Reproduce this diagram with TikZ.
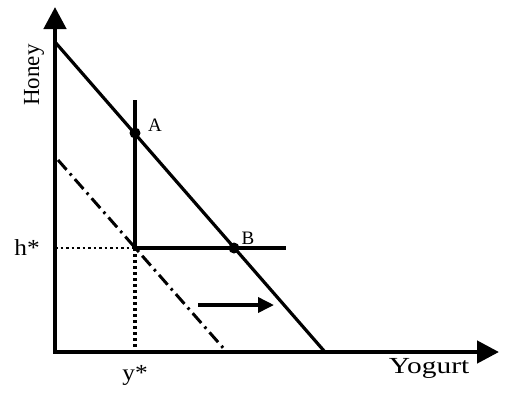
\documentclass[tikz,border=0pt]{standalone}
\usepackage{fontspec}
\setmainfont{Liberation Serif}
\usetikzlibrary{arrows.meta}
\tikzset{
  axis/.style={line width=4.5pt},
  curve/.style={line width=3.2pt},
  guide/.style={line width=2.8pt, dash pattern=on 2.5pt off 3pt},
  guidev/.style={line width=4pt, dash pattern=on 3pt off 3pt},
  dashdot/.style={line width=3pt, dash pattern=on 13pt off 5pt on 2.5pt off 5pt},
  pt/.style={circle, fill=black, inner sep=0pt, minimum size=11pt},
  lbl/.style={font=\fontsize{23}{23}\selectfont, inner sep=0pt},
  sml/.style={font=\fontsize{19}{19}\selectfont, inner sep=0pt},
}
\begin{document}
\begin{tikzpicture}[x=1pt,y=-1pt]
\useasboundingbox (0,0) rectangle (510,392);
\coordinate (O) at (55,352);
\coordinate (ytop) at (55,7);
\coordinate (xend) at (499,352);
\coordinate (b1) at (55,42);
\coordinate (b2) at (325,352);
\coordinate (E) at (135,248);
\coordinate (vtop) at (135,100);
\coordinate (hend) at (286,248);
\coordinate (hstart) at (55,248);
\coordinate (ybot) at (135,352);
\coordinate (d1) at (58,160);
\coordinate (d2) at (225,350);
\coordinate (a1) at (198,305);
\coordinate (a2) at (274,305);
% axes
\draw[axis, {Triangle[length=22pt,width=22pt]}-{Triangle[length=22pt,width=22pt]}, line join=miter] (ytop) -- (O) -- (xend);
% budget line
\draw[curve] (b1) -- (b2);
% kinked constraint
\draw[curve] (vtop) -- (E) -- (hend);
% guides
\draw[guide] (hstart) -- (E);
\draw[guidev] (E) -- (ybot);
% dash-dot line
\draw[dashdot] (d1) -- (d2);
% shift arrow
\draw[curve, line width=3.6pt, -{Triangle[length=16pt,width=15pt]}] (a1) -- (a2);
% points
\node[pt] (A) at (135,133) {};
\node[pt] (B) at (234,248) {};
\node[sml] (lA) at (155,125) {A};
\node[sml] (lB) at (248,238) {B};
% labels
\node[lbl, rotate=90] (honey) at (34,75) {Honey};
\node[lbl, xscale=1.1] (hs) at (27,248) {h*};
\node[lbl, xscale=1.1] (ys) at (135,375) {y*};
\node[lbl, xscale=1.28] (yog) at (429,368) {Yogurt};
\end{tikzpicture}
\end{document}
